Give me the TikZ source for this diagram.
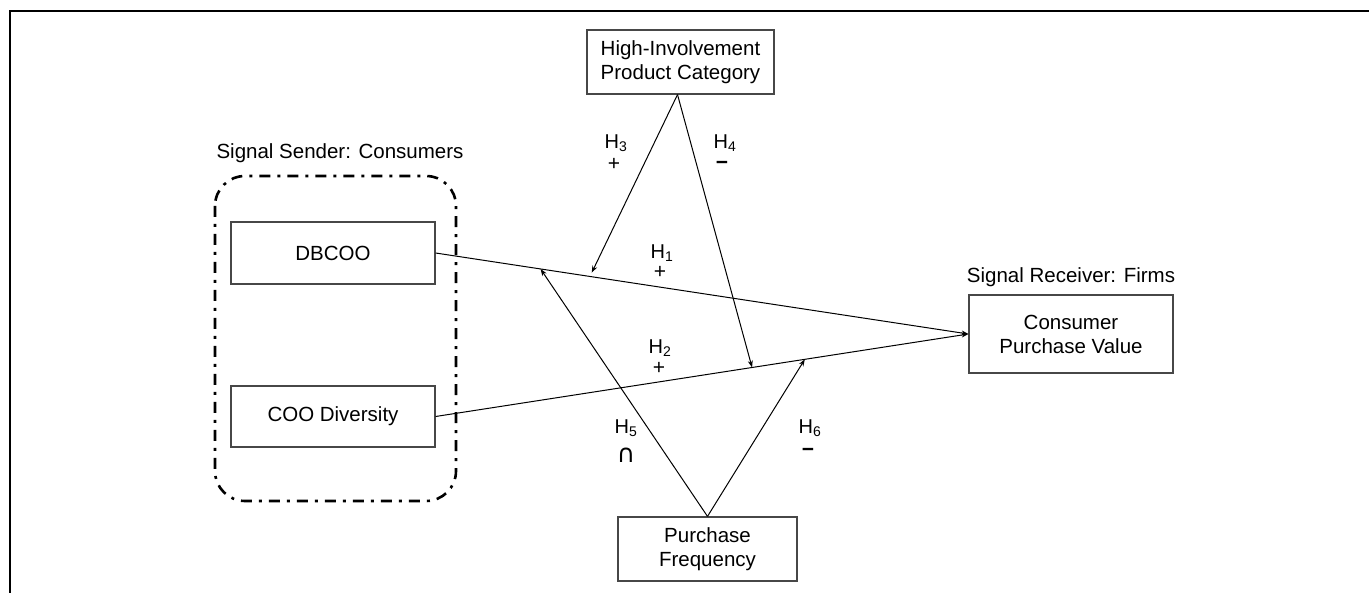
\documentclass[tikz,border=0pt]{standalone}
\usepackage{fontspec}
\setmainfont{Liberation Sans}
\newfontfamily\symfnt{DejaVu Sans}
\usetikzlibrary{arrows.meta,calc}
\begin{document}
\begin{tikzpicture}[x=1pt,y=-1pt,
  box/.style={draw=black!72, line width=1.2pt, align=center, inner sep=0pt,
    font=\fontsize{20.5}{24}\selectfont},
  arr/.style={-{Stealth[length=7pt,width=5pt]}, line width=1pt},
  hlab/.style={font=\fontsize{20}{22}\selectfont, inner sep=0pt},
  sgn/.style={font=\fontsize{21}{22}\selectfont, inner sep=0pt},
  title/.style={font=\fontsize{20.5}{24}\selectfont, inner sep=0pt},
  group/.style={line width=2.6pt, line cap=butt, rounded corners=30pt,
    dash pattern=on 11pt off 7pt on 3pt off 7pt}]
\useasboundingbox (0,0) rectangle (1369,593);
\fill[white] (0,0) rectangle (1369,593);
% frame
\draw[line width=1.5pt] (10,593) -- (10,11) -- (1369,11);

% group
\draw[group] (215,176) rectangle (456,501);
\node[title] (sender) at (340,153) {Signal Sender: Consumers};

% boxes
\node[box, minimum width=204pt, minimum height=62pt] (dbcoo) at (333,253) {DBCOO};
\node[box, minimum width=204pt, minimum height=61pt] (coo) at (333,416.5) {COO Diversity};
\node[box, minimum width=187pt, minimum height=64pt] (hi) at (680.5,62) {High-Involvement\\Product Category};
\node[box, minimum width=204pt, minimum height=78pt] (cpv) at (1071,334) {Consumer\\Purchase Value};
\node[box, minimum width=179pt, minimum height=64pt] (pf) at (707.5,549) {Purchase\\Frequency};
\node[title] (receiver) at (1071,277) {Signal Receiver: Firms};

% main paths
\draw[arr] (dbcoo.east) -- (cpv.west);
\draw[arr] (coo.east) -- (cpv.west);

% moderation points
\coordinate (m3) at ($(dbcoo.east)!0.293!(cpv.west)$);
\coordinate (m5) at ($(dbcoo.east)!0.197!(cpv.west)$);
\coordinate (m4) at ($(coo.east)!0.594!(cpv.west)$);
\coordinate (m6) at ($(coo.east)!0.693!(cpv.west)$);
\coordinate (hiS) at ($(hi.south)+(-3,0)$);

\draw[arr] (hiS) -- ($(m3)+(0,-4)$);
\draw[arr] (hiS) -- (m4);
\draw[arr] (pf.north) -- (m5);
\draw[arr] (pf.north) -- (m6);

% labels
\node[hlab] (h1) at (662,253) {H\textsubscript{1}};
\node[sgn] (s1) at (660,272) {+};
\node[hlab] (h2) at (660,348) {H\textsubscript{2}};
\node[sgn] (s2) at (659,368) {+};
\node[hlab] (h3) at (616,143) {H\textsubscript{3}};
\node[sgn] (s3) at (614,164) {+};
\node[hlab] (h4) at (725,143) {H\textsubscript{4}};
\node[sgn] (s4) at (722,165) {\textbf{−}};
\node[hlab] (h5) at (626,428) {H\textsubscript{5}};
\node[sgn] (s5) at (626,455) {\symfnt\fontsize{25}{26}\selectfont ∩};
\node[hlab] (h6) at (810,428) {H\textsubscript{6}};
\node[sgn] (s6) at (808,452) {\textbf{−}};
\end{tikzpicture}
\end{document}
